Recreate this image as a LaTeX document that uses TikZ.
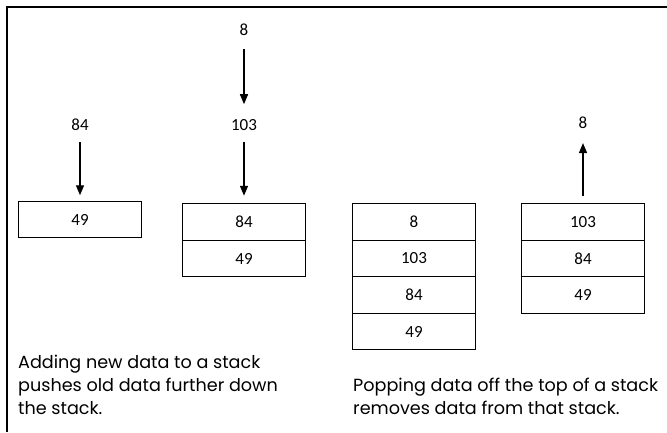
\documentclass[tikz,border=0pt]{standalone}
\usepackage{fontspec}
\setmainfont{Poppins}
\newfontfamily\cifras{Carlito}
\usetikzlibrary{arrows.meta,positioning}
\tikzset{
  celda/.style={draw,line width=1.4pt,minimum width=123pt,minimum height=36.5pt,
                inner sep=0pt,outer sep=0pt,font=\cifras\fontsize{17}{18}\selectfont},
  dato/.style={inner sep=0pt,font=\cifras\fontsize{17}{18}\selectfont},
  flecha/.style={-{Triangle[length=10pt,width=8pt]},line width=1.4pt},
  nota/.style={anchor=base west,align=left,inner sep=0pt,
               font=\fontsize{17.6}{23}\selectfont},
}

\begin{document}
\begin{tikzpicture}[x=1pt,y=-1pt]

\useasboundingbox (0,0) rectangle (667,432);
\draw[line width=2pt] (7,432) -- (7,7) -- (667,7);

% push 84
\node[dato] (n84) at (80,125) {84};
\node[celda] (a1) at (80,219.5) {49};
\draw[flecha,shorten <=11pt,shorten >=6pt] (n84) -- (a1);

% push 103, then 8
\node[dato] (n8) at (244,30) {8};
\node[dato] (n103) at (244,125) {103};
\node[celda] (b1) at (244,222) {84};
\node[celda,below=0pt of b1] (b2) {49};
\draw[flecha,shorten <=13pt,shorten >=15pt] (n8) -- (n103);
\draw[flecha,shorten <=11pt,shorten >=8pt] (n103) -- (b1);

% full stack
\node[celda] (c1) at (414,222) {8};
\node[celda,below=0pt of c1] (c2) {103};
\node[celda,below=0pt of c2] (c3) {84};
\node[celda,below=0pt of c3] (c4) {49};

% pop 8
\node[celda] (d1) at (583,222) {103};
\node[celda,below=0pt of d1] (d2) {84};
\node[celda,below=0pt of d2] (d3) {49};
\node[dato] (p8) at (583,123) {8};
\draw[flecha,shorten <=8pt,shorten >=14pt] (d1) -- (p8);

\node[nota] (t1) at (18,414) {Adding new data to a stack\\pushes old data further down\\the stack.};
\node[nota] (t2) at (353,414) {Popping data off the top of a stack\\removes data from that stack.};

\end{tikzpicture}
\end{document}
